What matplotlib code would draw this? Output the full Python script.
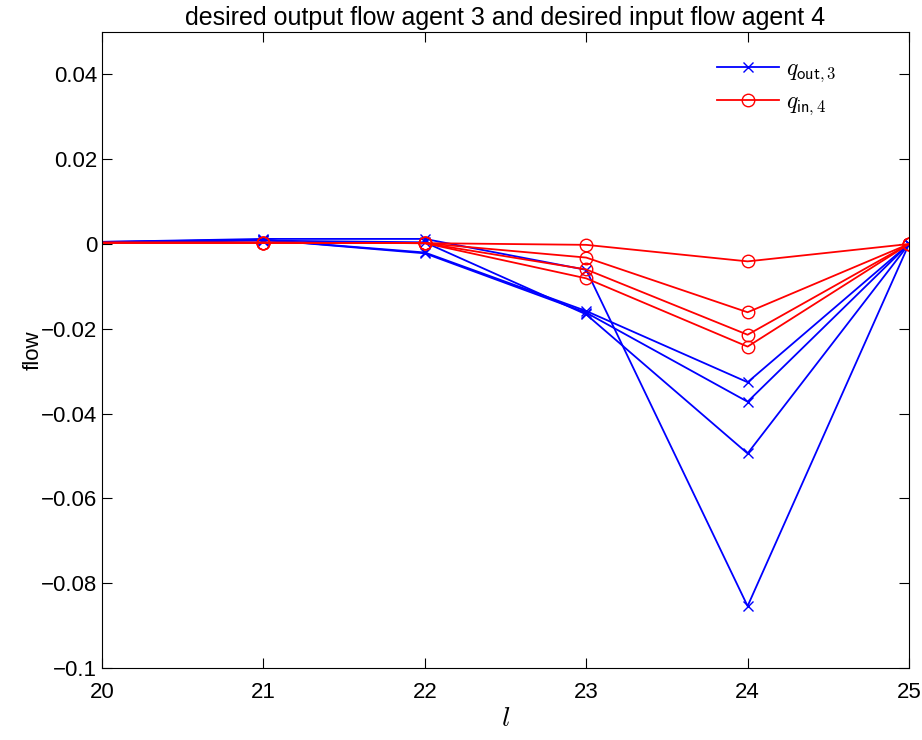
import matplotlib
matplotlib.use('Agg')
import matplotlib.pyplot as plt
import numpy as np

plt.rcParams.update({
    'font.family': 'Liberation Sans', 'font.size': 16,
    'mathtext.fontset': 'cm',
    'xtick.direction': 'in', 'ytick.direction': 'in',
    'xtick.top': True, 'ytick.right': True,
    'xtick.major.size': 7, 'ytick.major.size': 7,
})

steps = [20, 21, 22, 23, 24, 25]

# desired output flow of agent 3 (blue, x markers)
q_out3 = [
    [0.0005, 0.0012, 0.0012, -0.0061, -0.0854, 0.0],
    [0.0005, 0.0010, -0.0020, -0.0158, -0.0326, 0.0],
    [0.0004, 0.0010, -0.0022, -0.0162, -0.0372, 0.0],
    [0.0004, 0.0008, 0.0004, -0.0166, -0.0494, 0.0],
]

# desired input flow of agent 4 (red, circles)
q_in4 = [
    [0.0003, 0.0003, 0.0002, -0.0002, -0.0041, 0.0],
    [0.0003, 0.0003, 0.0002, -0.0032, -0.0161, 0.0],
    [0.0003, 0.0003, 0.0002, -0.0060, -0.0214, 0.0],
    [0.0003, 0.0003, 0.0002, -0.0081, -0.0242, 0.0],
]

fig = plt.figure(figsize=(9.22, 7.40), dpi=100)
ax = fig.add_axes([102/922, 1 - 668/740, (909-102)/922, (668-32)/740])

for i, s in enumerate(q_out3):
    ax.plot(steps, s, color='#0000ff', marker='x', markersize=7, lw=1.3,
            markevery=slice(1, None),
            label=r'$q_{\mathsf{out},3}$' if i == 0 else None)
for i, s in enumerate(q_in4):
    ax.plot(steps, s, color='#ff0000', marker='o', markersize=9, mfc='none', lw=1.3,
            markevery=slice(1, None),
            label=r'$q_{\mathsf{in},4}$' if i == 0 else None)

ax.set_xlim(20, 25)
ax.set_ylim(-0.1, 0.05)
ax.set_xticks(steps)
ax.set_yticks(np.arange(-0.1, 0.041, 0.02))
ax.set_yticklabels(['\u22120.1', '\u22120.08', '\u22120.06', '\u22120.04', '\u22120.02', '0', '0.02', '0.04'])
ax.tick_params(axis='x', pad=10)
ax.set_xlabel(r'$l$', fontsize=20, labelpad=2)
ax.set_ylabel('flow', labelpad=-2)
ax.set_title('desired output flow agent 3 and desired input flow agent 4', fontsize=18, pad=5)
ax.legend(loc='upper right', bbox_to_anchor=(0.93, 0.985), frameon=False, fontsize=17,
          handlelength=2.6, handletextpad=0.3, borderaxespad=0.3, labelspacing=0.3)

fig.savefig('out.png', dpi=100)
